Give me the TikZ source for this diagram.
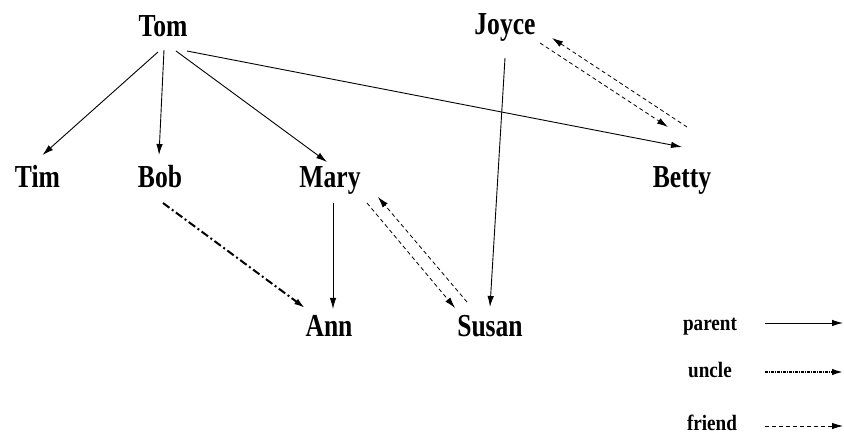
\documentclass[tikz,border=0pt]{standalone}
\usepackage{fontspec}
\usetikzlibrary{arrows.meta}
\newfontfamily\labfont{Liberation Serif}[FakeStretch=0.8]
\newfontfamily\legfont{Liberation Serif}[FakeStretch=0.87]
\begin{document}
\begin{tikzpicture}[x=1pt,y=-1pt,
  person/.style={anchor=base,inner sep=0pt,font=\labfont\bfseries\fontsize{32}{32}\selectfont},
  legtext/.style={anchor=base,inner sep=0pt,font=\legfont\bfseries\fontsize{22}{22}\selectfont},
  tip/.style={-{Latex[length=11pt,width=6.5pt]}},
  parentrel/.style={tip,line width=0.9pt},
  unclerel/.style={tip,line width=2pt,dash pattern=on 8pt off 3pt on 2pt off 3pt},
  unclelegend/.style={tip,line width=1.6pt,dash pattern=on 3pt off 1pt on 1pt off 1pt},
  friendrel/.style={tip,line width=0.8pt,dash pattern=on 4pt off 3pt}]
\useasboundingbox (0,0) rectangle (844,435);
\node[person] (tom) at (163,37) {Tom};
\node[person] (joyce) at (505,35) {Joyce};
\node[person] (tim) at (37.5,188) {Tim};
\node[person] (bob) at (160,188) {Bob};
\node[person] (mary) at (330,188) {Mary};
\node[person] (betty) at (682,188) {Betty};
\node[person] (ann) at (329,337) {Ann};
\node[person] (susan) at (490,337) {Susan};
% parent edges
\draw[parentrel] ([shift={(-5,15)}]tom.base) -- ([shift={(5,-33)}]tim.base);
\draw[parentrel] ([shift={(1,13)}]tom.base) -- ([shift={(-1,-33)}]bob.base);
\draw[parentrel] ([shift={(13,14)}]tom.base) -- ([shift={(-3,-26)}]mary.base);
\draw[parentrel] ([shift={(24,14)}]tom.base) -- ([shift={(0,-41)}]betty.base);
\draw[parentrel] ([shift={(0,23)}]joyce.base) -- ([shift={(0,-30)}]susan.base);
\draw[parentrel] ([shift={(3,15)}]mary.base) -- ([shift={(4,-28)}]ann.base);
% uncle
\draw[unclerel] ([shift={(3,15)}]bob.base) -- ([shift={(-24,-29)}]ann.base);
% friends
\draw[friendrel] ([shift={(5,-61)}]betty.base) -- ([shift={(47,3)}]joyce.base);
\draw[friendrel] ([shift={(35,8)}]joyce.base) -- ([shift={(-14,-61)}]betty.base);
\draw[friendrel] ([shift={(37,15)}]mary.base) -- ([shift={(-35,-29)}]susan.base);
\draw[friendrel] ([shift={(-23,-35)}]susan.base) -- ([shift={(48,9)}]mary.base);
% legend
\node[legtext] (lparent) at (710,331) {parent};
\node[legtext] (luncle) at (710,378) {uncle};
\node[legtext] (lfriend) at (712,431) {friend};
\draw[parentrel] ([shift={(55,-8)}]lparent.base) -- ([shift={(133,-8)}]lparent.base);
\draw[unclelegend] ([shift={(55,-6)}]luncle.base) -- ([shift={(133,-6)}]luncle.base);
\draw[friendrel] ([shift={(53,-5)}]lfriend.base) -- ([shift={(131,-5)}]lfriend.base);
\end{tikzpicture}
\end{document}
